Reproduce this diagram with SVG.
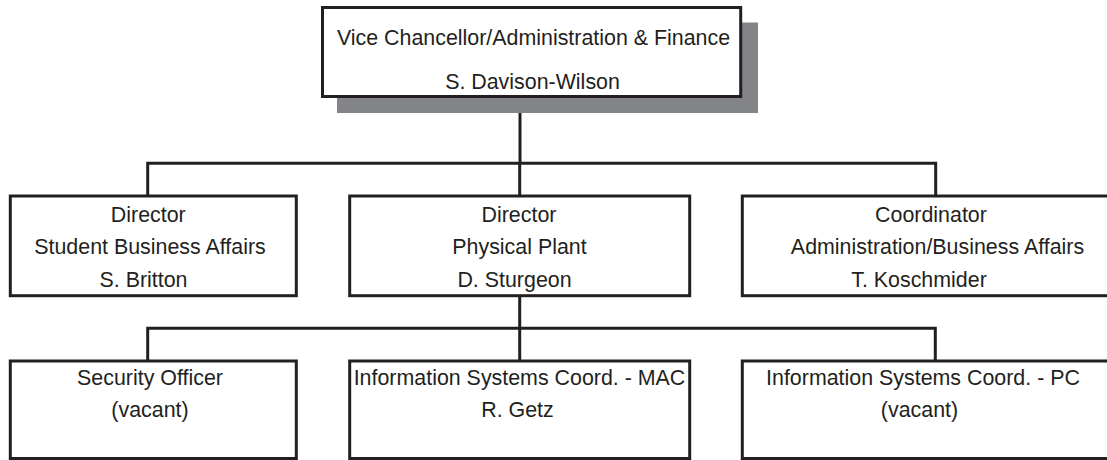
<svg xmlns="http://www.w3.org/2000/svg" width="1107" height="460" viewBox="0 0 1107 460">
<style>
  .box { fill: #ffffff; stroke: #231f20; stroke-width: 3; }
  .shadow { fill: #838487; }
  .conn { fill: none; stroke: #231f20; stroke-width: 3; stroke-linejoin: miter; }
  text { font-family: "Liberation Sans", Arial, sans-serif; font-size: 21.4px; fill: #231f20; text-anchor: middle; }
</style>
<rect width="1107" height="460" fill="#ffffff"/>
<g id="connectors">
  <path class="conn" d="M520,113 V163.3"/>
  <path class="conn" d="M147.7,196 V163.3 H935.7 V196"/>
  <path class="conn" d="M519.7,163.3 V196"/>
  <path class="conn" d="M519.7,295.7 V361"/>
  <path class="conn" d="M147.7,361 V328.3 H935.3 V361"/>
</g>
<g id="vice-chancellor">
  <rect class="shadow" x="337" y="22.5" width="421" height="90.5"/>
  <rect class="box" x="322.5" y="7.5" width="418.2" height="89"/>
  <text x="533.5" y="44.5">Vice Chancellor/Administration &amp; Finance</text>
  <text x="532.5" y="89">S. Davison-Wilson</text>
</g>
<g id="director-student-business">
  <rect class="box" x="10.3" y="196" width="286" height="99.7"/>
  <text x="148.3" y="222">Director</text>
  <text x="150" y="254">Student Business Affairs</text>
  <text x="143.5" y="286.5">S. Britton</text>
</g>
<g id="director-physical-plant">
  <rect class="box" x="349.7" y="196" width="340" height="99.7"/>
  <text x="519" y="222">Director</text>
  <text x="519.5" y="254">Physical Plant</text>
  <text x="514.5" y="286.5">D. Sturgeon</text>
</g>
<g id="coordinator-admin">
  <rect class="box" x="742.3" y="196" width="390" height="99.7"/>
  <text x="931" y="222">Coordinator</text>
  <text x="937.5" y="254">Administration/Business Affairs</text>
  <text x="919" y="286.5">T. Koschmider</text>
</g>
<g id="security-officer">
  <rect class="box" x="10.3" y="361" width="286" height="97.5"/>
  <text x="150" y="385">Security Officer</text>
  <text x="150" y="417">(vacant)</text>
</g>
<g id="info-systems-mac">
  <rect class="box" x="349.7" y="361" width="340" height="97.5"/>
  <text x="519.5" y="385">Information Systems Coord. - MAC</text>
  <text x="517.5" y="417">R. Getz</text>
</g>
<g id="info-systems-pc">
  <rect class="box" x="742.3" y="361" width="390" height="97.5"/>
  <text x="923" y="385">Information Systems Coord. - PC</text>
  <text x="919.5" y="417">(vacant)</text>
</g>
</svg>
